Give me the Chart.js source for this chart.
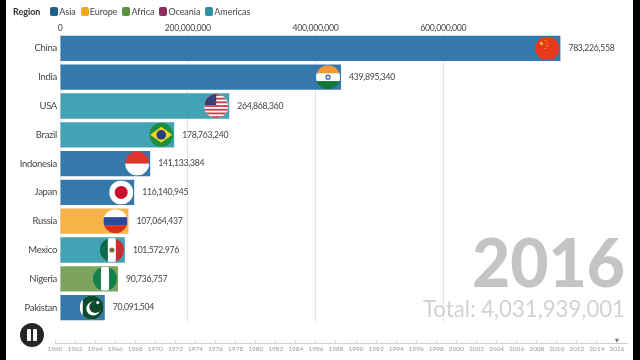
<!DOCTYPE html>
<html>
<head>
<meta charset="utf-8">
<title>Population race</title>
<script src="https://cdn.jsdelivr.net/npm/chart.js@4"></script>
<style>
html, body { margin: 0; padding: 0; background: #fff; }
#page { position: relative; width: 640px; height: 360px; overflow: hidden; font-family: Lato, sans-serif; }
canvas { position: absolute; left: 0; }
.edge { position: absolute; top: 0; height: 360px; background: #000; }
#legend { position: absolute; left: 13px; top: 6px; font-size: 9px; letter-spacing: -0.05px; color: #444; white-space: nowrap; line-height: 12px; }
#legend b { color: #333; margin-right: 10px; }
#legend i { display: inline-block; width: 8px; height: 9px; border-radius: 2px; margin-right: 1px; vertical-align: -1px; }
#legend span { margin-right: 5px; }
#year { position: absolute; right: 15px; top: 223px; font-size: 66px; font-weight: 900; line-height: 78px; color: #c4c4c4; }
#total { position: absolute; right: 15px; top: 295px; font-size: 22.2px; line-height: 28px; color: #d2d2d2; }
#pause { position: absolute; left: 20px; top: 323px; width: 24px; height: 24px; border-radius: 50%; background: #262626; }
#pause::before, #pause::after { content: ""; position: absolute; top: 6px; width: 4px; height: 12px; border-radius: 1px; background: #fff; }
#pause::before { left: 7px; }
#pause::after { left: 13px; }
</style>
</head>
<body>
<div id="page">
  <canvas id="raceChart" width="640" height="360" style="top:0"></canvas>
  <canvas id="timeline" width="640" height="30" style="top:330px"></canvas>
  <div id="legend"></div>
  <div id="year"></div>
  <div id="total"></div>
  <div id="pause"></div>
  <div class="edge" style="left:0;width:6px"></div>
  <div class="edge" style="left:633px;width:7px"></div>
</div>
<script>
const countries = ['China', 'India', 'USA', 'Brazil', 'Indonesia', 'Japan', 'Russia', 'Mexico', 'Nigeria', 'Pakistan'];
const values = [783226558, 439895340, 264868360, 178763240, 141133384, 116140945, 107064437, 101572976, 90736757, 70091504];
const countryRegions = ['Asia', 'Asia', 'Americas', 'Americas', 'Asia', 'Asia', 'Europe', 'Americas', 'Africa', 'Asia'];
const regionNames = ['Asia', 'Europe', 'Africa', 'Oceania', 'Americas'];
const regionColors = ['#1f6aa3', '#f6ab33', '#6f9a4e', '#8b2e5f', '#2f98ac'];
const legendColors = ['#1d5f8a', '#f0a81c', '#5a9040', '#8b2e5f', '#2c93a2'];
const xTicks = [0, 200000000, 400000000, 600000000];
const timelineYears = [1960, 1962, 1964, 1966, 1968, 1970, 1972, 1974, 1976, 1978, 1980, 1982, 1984, 1986, 1988, 1990, 1992, 1994, 1996, 1998, 2000, 2002, 2004, 2006, 2008, 2010, 2012, 2014, 2016];
const yearNow = '2016';
const totalNow = 'Total: 4,031,939,001';

const fontName = 'Lato, sans-serif';

function fmt(n) { return n.toLocaleString('en-US'); }

// each flag paints a 24x24 square centred on 0,0; the caller clips it to a circle
const flags = {
    China(c) {
        c.fillStyle = '#e8391c'; c.fillRect(-12, -12, 24, 24);
        c.fillStyle = '#f3c02f';
        [[-6, -5, 1.6], [-2, -8, .7], [0, -5.5, .7], [0, -2.5, .7], [-2, 0, .7]].forEach(function(s) {
            c.beginPath(); c.arc(s[0], s[1], s[2], 0, 7); c.fill();
        });
    },
    India(c) {
        c.fillStyle = '#f49b38'; c.fillRect(-12, -12, 24, 8);
        c.fillStyle = '#fff'; c.fillRect(-12, -4, 24, 8);
        c.fillStyle = '#14783a'; c.fillRect(-12, 4, 24, 8);
        c.fillStyle = '#3b5fa0'; c.beginPath(); c.arc(0, 0, 2.6, 0, 7); c.fill();
        c.fillStyle = '#fff'; c.beginPath(); c.arc(0, 0, 1.3, 0, 7); c.fill();
    },
    USA(c) {
        c.fillStyle = '#fff'; c.fillRect(-12, -12, 24, 24);
        c.fillStyle = '#c8404a';
        for (let i = 0; i < 7; i++) c.fillRect(-12, -12 + i * 3.7, 24, 1.85);
        c.fillStyle = '#3b3f78'; c.fillRect(-12, -12, 12, 11);
    },
    Brazil(c) {
        c.fillStyle = '#1a8f3c'; c.fillRect(-12, -12, 24, 24);
        c.fillStyle = '#f5d423'; c.beginPath();
        c.moveTo(-11, 0); c.lineTo(0, -8); c.lineTo(11, 0); c.lineTo(0, 8); c.closePath(); c.fill();
        c.fillStyle = '#1f3f80'; c.beginPath(); c.arc(0, 0, 4.8, 0, 7); c.fill();
    },
    Indonesia(c) {
        c.fillStyle = '#e2332d'; c.fillRect(-12, -12, 24, 12);
        c.fillStyle = '#fff'; c.fillRect(-12, 0, 24, 12);
    },
    Japan(c) {
        c.fillStyle = '#fff'; c.fillRect(-12, -12, 24, 24);
        c.fillStyle = '#c8102e'; c.beginPath(); c.arc(0, 0, 6.5, 0, 7); c.fill();
    },
    Russia(c) {
        c.fillStyle = '#fff'; c.fillRect(-12, -12, 24, 8);
        c.fillStyle = '#2a4a9b'; c.fillRect(-12, -4, 24, 8);
        c.fillStyle = '#d8321f'; c.fillRect(-12, 4, 24, 8);
    },
    Mexico(c) {
        c.fillStyle = '#0d6b47'; c.fillRect(-12, -12, 8, 24);
        c.fillStyle = '#fff'; c.fillRect(-4, -12, 8, 24);
        c.fillStyle = '#cf2b37'; c.fillRect(4, -12, 8, 24);
        c.fillStyle = '#8a6a3c'; c.beginPath(); c.arc(0, 0, 2.6, 0, 7); c.fill();
    },
    Nigeria(c) {
        c.fillStyle = '#12804d'; c.fillRect(-12, -12, 24, 24);
        c.fillStyle = '#fff'; c.fillRect(-4, -12, 8, 24);
    },
    Pakistan(c) {
        c.fillStyle = '#fff'; c.fillRect(-12, -12, 24, 24);
        c.fillStyle = '#0c4a2e'; c.fillRect(-9, -12, 21, 24);
        c.fillStyle = '#fff'; c.beginPath(); c.arc(1.5, 1, 7, 0, 7); c.fill();
        c.fillStyle = '#0c4a2e'; c.beginPath(); c.arc(3.5, -.5, 6, 0, 7); c.fill();
        c.fillStyle = '#fff'; c.beginPath(); c.arc(6, -5, 1.6, 0, 7); c.fill();
    }
};

// flag circle at the end of each bar plus the value label after it
const barEnds = {
    id: 'barEnds',
    beforeDraw(chart) {
        chart.ctx.letterSpacing = '-0.3px';
    },
    afterDatasetsDraw(chart) {
        const c = chart.ctx;
        chart.getDatasetMeta(0).data.forEach(function(bar, i) {
            c.save();
            c.translate(bar.x - 13, bar.y);
            c.beginPath(); c.arc(0, 0, 12, 0, Math.PI * 2); c.clip();
            flags[countries[i]](c);
            c.restore();

            c.save();
            c.font = '8.7px ' + fontName;
            c.fillStyle = '#444';
            c.textAlign = 'left';
            c.textBaseline = 'middle';
            c.fillText(fmt(values[i]), bar.x + 8, bar.y);
            c.restore();
        });
    }
};

new Chart(document.getElementById('raceChart'), {
    type: 'bar',
    data: {
        labels: countries,
        datasets: [{
            data: values,
            backgroundColor: countryRegions.map(function(r) { return regionColors[regionNames.indexOf(r)] + 'e6'; }),
            borderWidth: 0,
            barPercentage: 0.88,
            categoryPercentage: 1
        }]
    },
    options: {
        indexAxis: 'y',
        responsive: false,
        animation: false,
        layout: { padding: { top: 0, right: 5, bottom: 38, left: 0 } },
        plugins: { legend: { display: false }, tooltip: { enabled: false } },
        scales: {
            x: {
                position: 'top',
                min: 0,
                max: 900000000,
                afterBuildTicks: function(axis) { axis.ticks = xTicks.map(function(v) { return { value: v }; }); },
                afterFit: function(axis) { axis.height = 34; },
                border: { display: false },
                grid: { color: '#e4e4e4', drawTicks: false },
                ticks: {
                    padding: 1, maxRotation: 0, color: '#444',
                    font: { family: fontName, size: 8.7 },
                    callback: function(v) { return fmt(v); }
                }
            },
            y: {
                afterFit: function(axis) { axis.width = 60; },
                border: { display: false },
                grid: { display: false, drawTicks: false },
                ticks: { padding: 3, color: '#444', font: { family: fontName, size: 9.5 } }
            }
        }
    },
    plugins: [barEnds]
});

new Chart(document.getElementById('timeline'), {
    type: 'scatter',
    data: {
        datasets: [{
            data: [{ x: Number(yearNow), y: 2 }],
            pointStyle: 'triangle',
            rotation: 180,
            radius: 2.5,
            backgroundColor: '#777',
            borderWidth: 0,
            clip: false
        }]
    },
    options: {
        responsive: false,
        animation: false,
        layout: { padding: { top: 10, right: 13, bottom: 0, left: 55 } },
        plugins: { legend: { display: false }, tooltip: { enabled: false } },
        scales: {
            x: {
                type: 'linear',
                min: timelineYears[0],
                max: 2017,
                afterBuildTicks: function(axis) { axis.ticks = timelineYears.map(function(y) { return { value: y }; }); },
                afterFit: function(axis) { axis.height = 17; },
                border: { color: '#cfcfcf' },
                grid: { color: '#d8d8d8', drawTicks: false },
                ticks: {
                    padding: 2, maxRotation: 0, autoSkip: false, color: '#999',
                    font: { family: fontName, size: 6.5 },
                    callback: function(v) { return String(v); }
                }
            },
            y: { display: false, min: 0, max: 2 }
        }
    }
});

document.getElementById('legend').innerHTML = '<b>Region</b>' + regionNames.map(function(r, i) {
    return '<i style="background:' + legendColors[i] + '"></i><span>' + r + '</span>';
}).join('');
document.getElementById('year').textContent = yearNow;
document.getElementById('total').textContent = totalNow;
</script>
</body>
</html>
